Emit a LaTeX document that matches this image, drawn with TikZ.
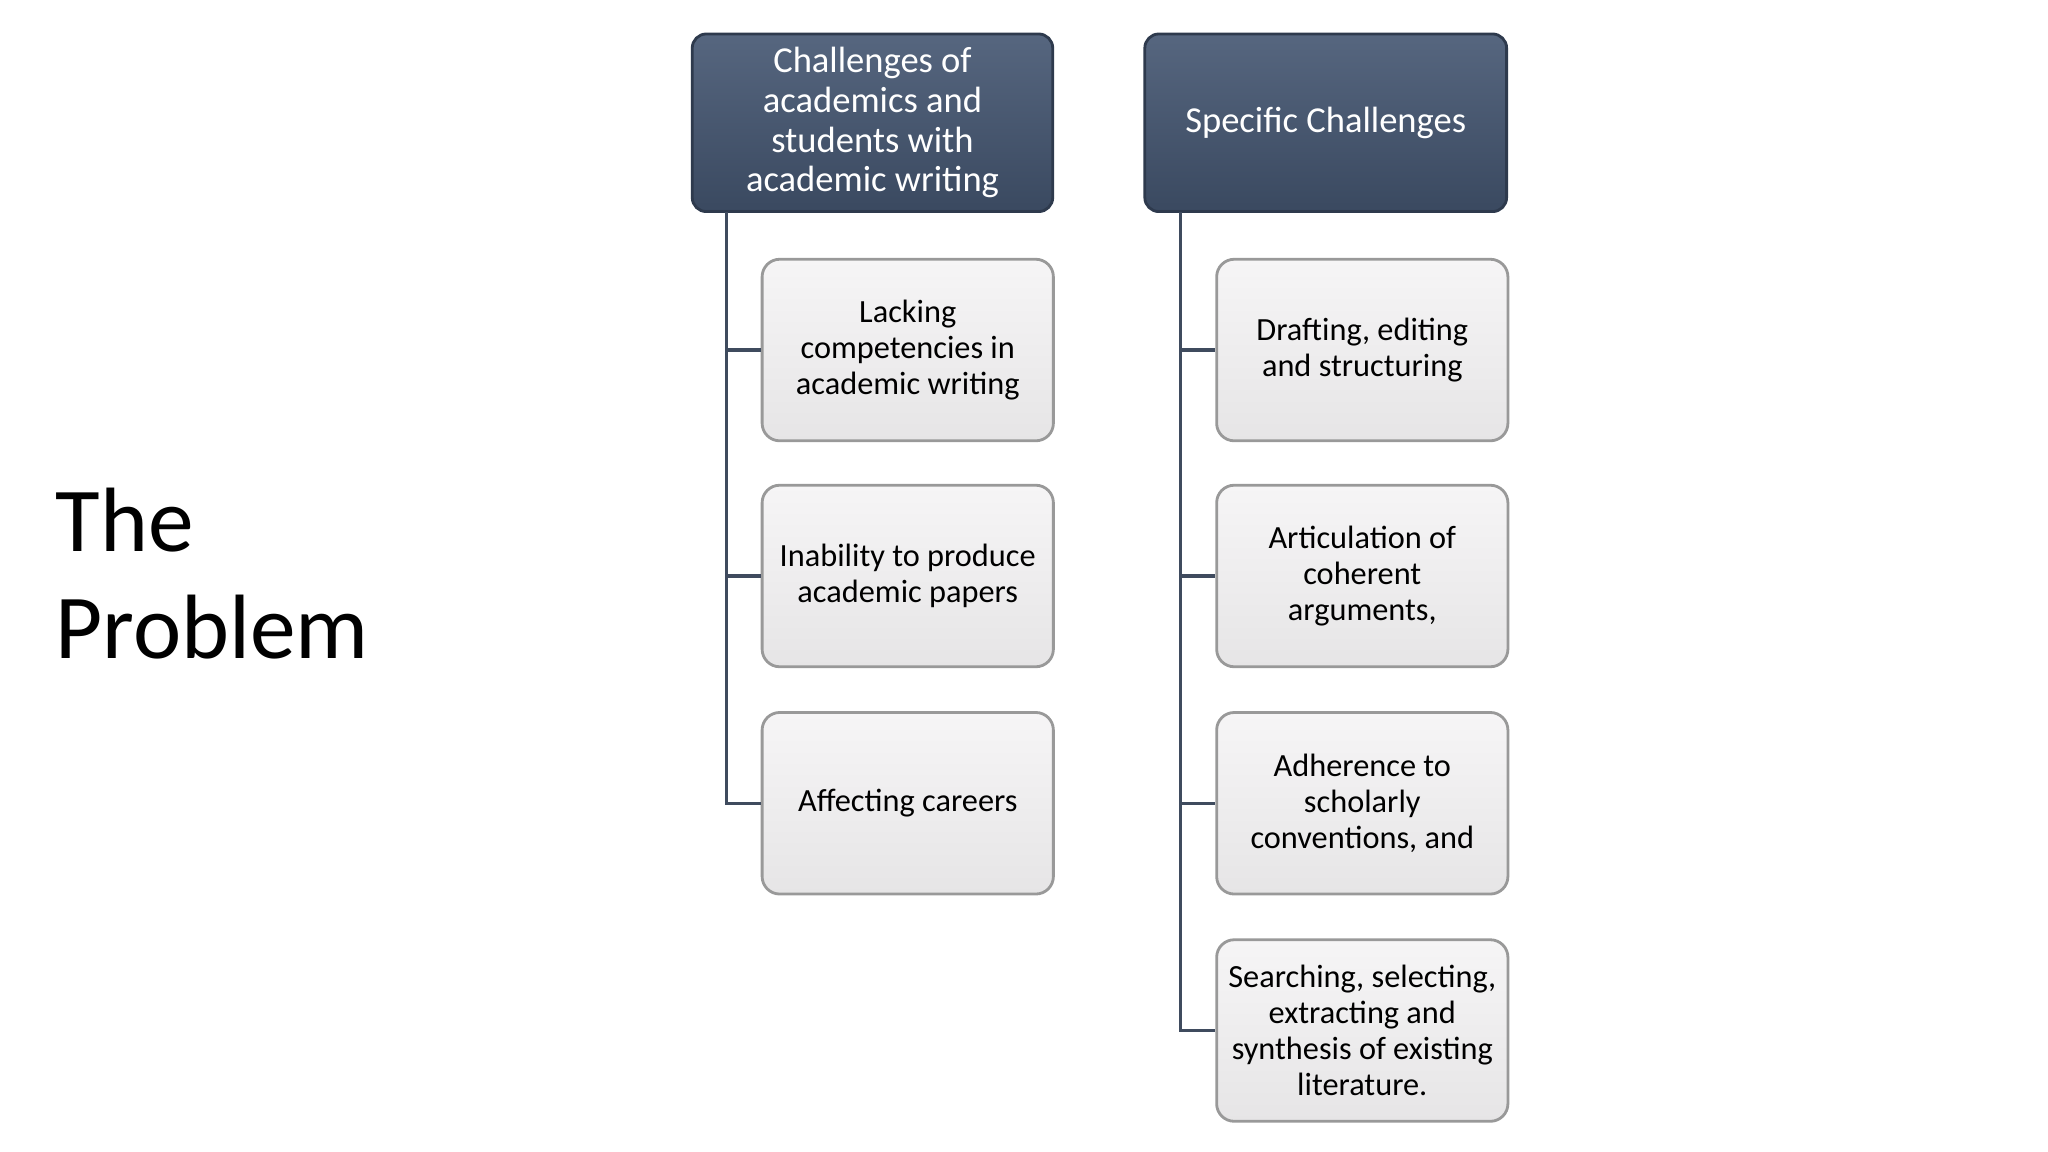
\documentclass[tikz,border=0pt]{standalone}
\usepackage{fontspec}
\setmainfont{Carlito}
\definecolor{hdtop}{HTML}{56667F}
\definecolor{hdbot}{HTML}{3A4960}
\definecolor{chtop}{HTML}{F6F5F6}
\definecolor{chbot}{HTML}{E6E5E6}
\definecolor{lineC}{HTML}{3F4B5E}
\begin{document}
\begin{tikzpicture}[x=0.01306cm,y=-0.01306cm,
 hd/.style={draw=hdbot!80!black,line width=0.8pt,rounded corners=4pt,top color=hdtop,bottom color=hdbot,text=white,align=center,font=\fontsize{10.4}{11.3}\selectfont,inner sep=1pt},
 ch/.style={draw=black!40,line width=0.8pt,rounded corners=5pt,top color=chtop,bottom color=chbot,text=black,align=center,font=\fontsize{9.2}{10.2}\selectfont,inner sep=1pt},
 ln/.style={draw=lineC,line width=0.9pt}]
\useasboundingbox (0,0) rectangle (1568,882);
\fill[white] (0,0) rectangle (1568,882);
\node[anchor=west,align=left,inner sep=0pt,font=\fontsize{26}{30.5}\selectfont] (title) at (42,439) {The\\Problem};
\node[hd,minimum width=276*0.01306cm,minimum height=136*0.01306cm] (h1) at (668,94) {Challenges of\\academics and\\students with\\academic writing};
\node[hd,minimum width=277*0.01306cm,minimum height=136*0.01306cm] (h2) at (1015,94) {Specific Challenges};
\foreach \n/\y/\t in {a1/268/{Lacking\\competencies in\\academic writing},a2/441/{Inability to produce\\academic papers},a3/615/{Affecting careers}}{
 \node[ch,minimum width=223*0.01306cm,minimum height=139*0.01306cm] (\n) at (695,\y) {\t};}
\foreach \n/\y/\t in {b1/268/{Drafting, editing\\and structuring},b2/441/{Articulation of\\coherent\\arguments,},b3/615/{Adherence to\\scholarly\\conventions, and},b4/789/{Searching, selecting,\\extracting and\\synthesis of existing\\literature.}}{
 \node[ch,minimum width=223*0.01306cm,minimum height=139*0.01306cm] (\n) at (1043,\y) {\t};}
\coordinate (l0) at (556,162); \coordinate (r0) at (904,162);
\foreach \n in {a1,a2,a3}{\draw[ln] (l0) |- (\n.west);}
\foreach \n in {b1,b2,b3,b4}{\draw[ln] (r0) |- (\n.west);}
\end{tikzpicture}
\end{document}
